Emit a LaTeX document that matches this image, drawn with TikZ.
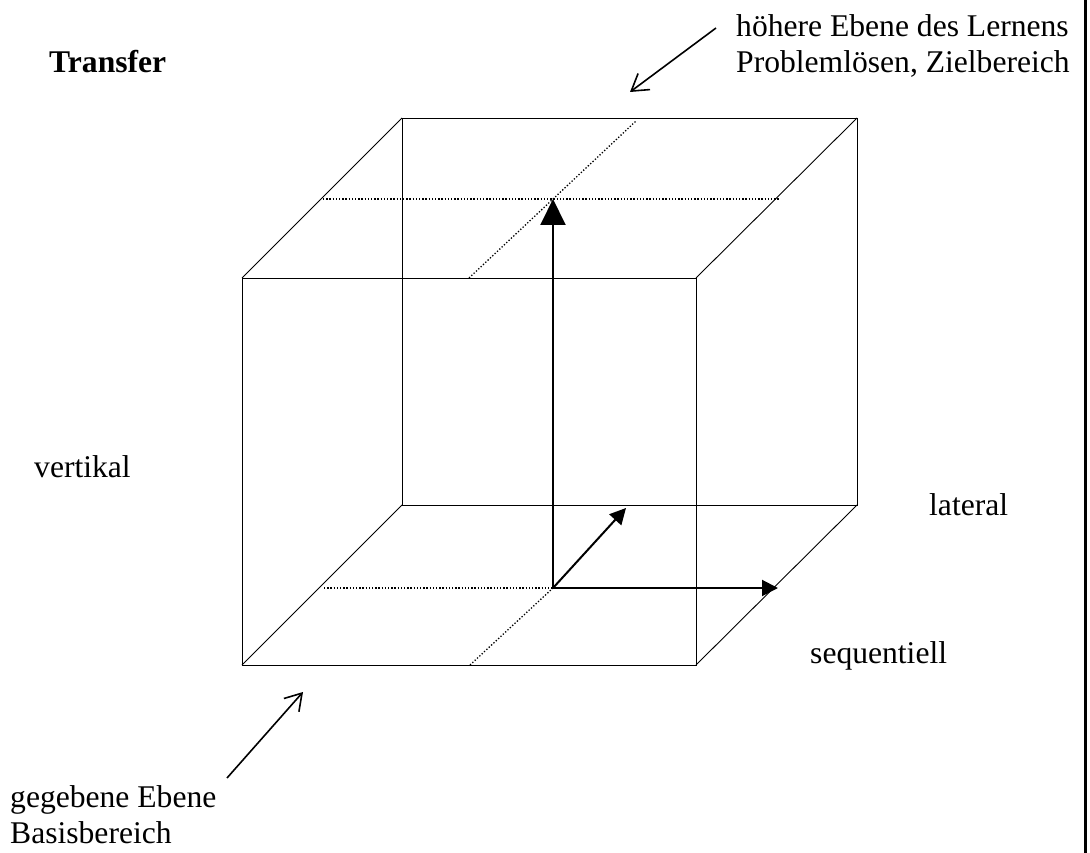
\documentclass[tikz,border=0pt]{standalone}
\usepackage{fontspec}
\setmainfont{Liberation Serif}
\usetikzlibrary{arrows.meta}
\begin{document}
\begin{tikzpicture}[x=1pt,y=-1pt,
  edge/.style={line width=0.9pt},
  dotline/.style={line width=1.3pt,dash pattern=on 1.3pt off 1.9pt},
  bigarrow/.style={line width=2pt,-{Triangle[length=26pt,width=25pt]}},
  smallarrow/.style={line width=2pt,-{Triangle[length=16pt,width=16pt]}},
  pointer/.style={line width=1.6pt,-{Straight Barb[length=16pt,width=20pt,line width=1.6pt]}},
  lbl/.style={inner sep=0pt,anchor=base west,font=\fontsize{31.6}{35.5}\selectfont,align=left}]
\useasboundingbox (0,0) rectangle (1090,853);
% right border line
\coordinate (bt) at (1085.5,0);
\coordinate (bb) at (1085.5,853);
\draw[line width=3pt] (bt) -- (bb);
% cube corners
\coordinate (f1) at (242,278);
\coordinate (f2) at (696,278);
\coordinate (f3) at (696,665);
\coordinate (f4) at (242,665);
\coordinate (b1) at (402,118);
\coordinate (b2) at (857,118);
\coordinate (b3) at (857,505);
\coordinate (b4) at (402,505);
% cube edges
\draw[edge] (f1) -- (f2) -- (f3) -- (f4) -- cycle;
\draw[edge] (b1) -- (b2) -- (b3) -- (b4) -- cycle;
\draw[edge] (f1) -- (b1);
\draw[edge] (f2) -- (b2);
\draw[edge] (f3) -- (b3);
\draw[edge] (f4) -- (b4);
% dotted guide lines
\coordinate (tl) at (323,199);
\coordinate (tr) at (779,199);
\coordinate (tf) at (469,278);
\coordinate (tb) at (636,121);
\coordinate (tc) at (553,199);
\coordinate (bl) at (324,588);
\coordinate (bf) at (470,665);
\coordinate (bc) at (553,588);
\draw[dotline] (tl) -- (tr);
\draw[dotline] (tf) -- (tb);
\draw[dotline] (bl) -- (bc);
\draw[dotline] (bf) -- (bc);
% axes arrows
\coordinate (ar) at (778,588);
\coordinate (ad) at (626,508);
\draw[bigarrow] (bc) -- (tc);
\draw[smallarrow] (bc) -- (ar);
\draw[smallarrow] (bc) -- (ad);
% labels
\node[lbl,font=\fontsize{31.6}{35.5}\selectfont\bfseries] (transfer) at (49,73) {Transfer};
\node[lbl] (hoehere) at (736,72.5) {höhere Ebene des Lernens\\Problemlösen, Zielbereich};
\node[lbl] (vertikal) at (34,477) {vertikal};
\node[lbl] (lateral) at (929,515) {lateral};
\node[lbl] (sequentiell) at (810,663) {sequentiell};
\node[lbl] (gegebene) at (10,843) {gegebene Ebene\\Basisbereich};
% pointers
\coordinate (p1s) at (716,28);
\coordinate (p1e) at (630,92);
\coordinate (p2s) at (227,778);
\coordinate (p2e) at (303,692);
\draw[pointer] (p1s) -- (p1e);
\draw[pointer] (p2s) -- (p2e);
\end{tikzpicture}
\end{document}
